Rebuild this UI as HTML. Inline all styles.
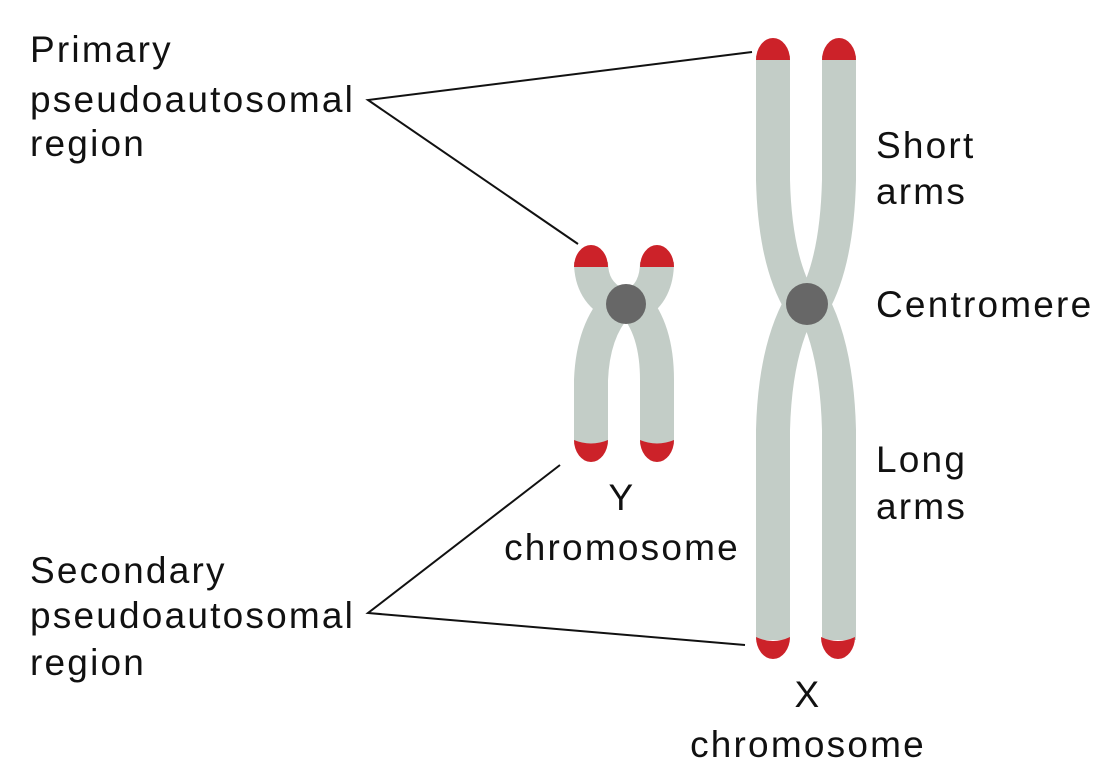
<!DOCTYPE html>
<html><head><meta charset="utf-8"><style>
html,body{margin:0;padding:0;background:#fff;}
svg{display:block;}
text{font-family:"Liberation Sans",sans-serif;font-size:37px;fill:#111;letter-spacing:2.2px;}
</style></head><body>
<svg width="1113" height="783" viewBox="0 0 1113 783">
<g fill="none" stroke="#c3cdc7" stroke-width="34" stroke-linecap="butt">
<path d="M773,56 L773,180 Q775,262 801,304"/>
<path d="M801,304 Q775,350 773,430 L773,640"/>
<path d="M839,56 L839,180 Q837,262 813,304"/>
<path d="M813,304 Q837,350 839,430 L839,640"/>
<path d="M591,262 Q591,292 616,304"/>
<path d="M657,262 Q657,292 636,304"/>
<path d="M618,304 Q593,330 591,380 L591,444"/>
<path d="M634,304 Q657,330 657,380 L657,444"/>
</g>
<g fill="#cc2229">
<path d="M756,60 A17,22 0 0 1 790,60 Z"/>
<path d="M822,60 A17,22 0 0 1 856,60 Z"/>
<path d="M756,637 Q773,645 790,637 A17,22 0 0 1 756,637 Z"/>
<path d="M821,637 Q838,645 855,637 A17,22 0 0 1 821,637 Z"/>
<path d="M574,267 A17,22 0 0 1 608,267 Z"/>
<path d="M640,267 A17,22 0 0 1 674,267 Z"/>
<path d="M574,440 Q591,447 608,440 A17,22 0 0 1 574,440 Z"/>
<path d="M640,440 Q657,447 674,440 A17,22 0 0 1 640,440 Z"/>
</g>
<circle cx="626" cy="304" r="20" fill="#676767"/>
<circle cx="807" cy="304" r="21" fill="#676767"/>
<g stroke="#111" stroke-width="2" fill="none">
<path d="M752,52 L368,100 L578,244"/>
<path d="M560,465 L368,613 L745,645"/>
</g>
<text x="30" y="62">Primary</text>
<text x="30" y="112">pseudoautosomal</text>
<text x="30" y="156">region</text>
<text x="30" y="583">Secondary</text>
<text x="30" y="628">pseudoautosomal</text>
<text x="30" y="675">region</text>
<text x="876" y="158">Short</text>
<text x="876" y="204">arms</text>
<text x="876" y="317">Centromere</text>
<text x="876" y="472">Long</text>
<text x="876" y="519">arms</text>
<text x="622" y="510" text-anchor="middle">Y</text>
<text x="622" y="560" text-anchor="middle">chromosome</text>
<text x="808" y="707" text-anchor="middle">X</text>
<text x="808" y="757" text-anchor="middle">chromosome</text>
</svg>
</body></html>
